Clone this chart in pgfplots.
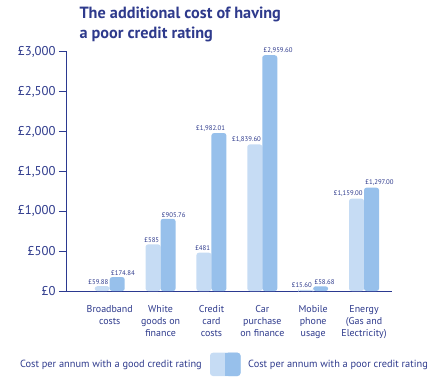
\documentclass[border=0pt]{standalone}
\usepackage{fontspec}
\setmainfont{PT Sans}
\usepackage{pgfplots}
\usepackage{pgfplotstable}
\pgfplotsset{compat=1.18}
\definecolor{navy}{HTML}{2B3990}
\definecolor{txt}{HTML}{2E3A8C}
\definecolor{good}{HTML}{C6DCF4}
\definecolor{poor}{HTML}{97C0EB}

\pgfplotstableread[col sep=semicolon]{
x;y;lab
0;59.88;£59.88
1;585;£585
2;481;£481
3;1839.60;£1,839.60
4;15.60;£15.60
5;1159.00;£1,159.00
}\good

\pgfplotstableread[col sep=semicolon]{
x;y;lab
0;174.84;£174.84
1;905.76;£905.76
3;2959.60;£2,959.60
4;58.68;£58.68
5;1297.00;£1,297.00
}\poor

\pgfplotstableread[col sep=semicolon]{
x;y;lab
2;1982.01;£1,982.01
}\poorcc

\begin{document}
\begin{tikzpicture}
\path[use as bounding box] (-67bp,-94bp) rectangle (376bp,291bp);
\begin{axis}[
  at={(0,0)}, anchor=south west,
  scale only axis, width=325bp, height=239bp,
  xmin=-0.84, xmax=5.55, ymin=0, ymax=3000,
  axis x line*=bottom, axis y line*=left,
  axis line style={navy, line width=1bp},
  ytick={0,500,...,3000},
  yticklabels={{£0},{£500},{£1,000},{£1,500},{£2,000},{£2,500},{£3,000}},
  tick align=outside, major tick length=8bp,
  y tick style={navy, line width=1bp},
  x tick style={draw=none},
  xtick={0,1,2,3,4,5},
  xticklabels={{Broadband\\costs},{White\\goods on\\finance},{Credit\\card\\costs},{Car\\purchase\\on finance},{Mobile\\phone\\usage},{Energy\\(Gas and\\Electricity)}},
  yticklabel style={font=\fontsize{12.8}{14}\selectfont, text=txt},
  xticklabel style={align=center, font=\fontsize{10}{12}\selectfont, text=txt, yshift=-3bp},
  ybar=0pt, bar width=15bp,
  clip=false,
  nodes near coords,
  point meta=explicit symbolic,
  every node near coord/.append style={font=\fontsize{6.8}{8}\selectfont, text=txt, inner xsep=1.2bp, inner ysep=1.5bp},
]
\addplot[fill=good, draw=none, rounded corners=2.5bp, bar shift=-7.5bp,
  every node near coord/.append style={anchor=south east, xshift=7.5bp}]
  table[x=x, y=y, meta=lab] {\good};
\addplot[fill=poor, draw=none, rounded corners=2.5bp, bar shift=7.5bp,
  every node near coord/.append style={anchor=south west, xshift=-7.5bp}]
  table[x=x, y=y, meta=lab] {\poor};
\addplot[fill=poor, draw=none, rounded corners=2.5bp, bar shift=7.5bp,
  every node near coord/.append style={anchor=south east, xshift=7.5bp}]
  table[x=x, y=y, meta=lab] {\poorcc};
\end{axis}
\node[anchor=base west, font=\bfseries\fontsize{16.3}{20}\selectfont, text=txt] at (9bp,272.5bp) {The additional cost of having};
\node[anchor=base west, font=\bfseries\fontsize{16.3}{20}\selectfont, text=txt] at (9bp,252.7bp) {a poor credit rating};
\node[anchor=east, font=\fontsize{10.4}{12}\selectfont, text=txt, inner sep=0pt] at (135bp,-74bp) {Cost per annum with a good credit rating};
\node[anchor=west, font=\fontsize{10.4}{12}\selectfont, text=txt, inner sep=0pt] at (181bp,-74bp) {Cost per annum with a poor credit rating};
\fill[good, rounded corners=3bp] (143bp,-61.7bp) rectangle (173.5bp,-85bp);
\fill[poor, rounded corners=3bp] (158.3bp,-61.7bp) rectangle (173.5bp,-85bp);
\fill[poor] (158.3bp,-61.7bp) rectangle (163bp,-85bp);
\end{tikzpicture}
\end{document}
